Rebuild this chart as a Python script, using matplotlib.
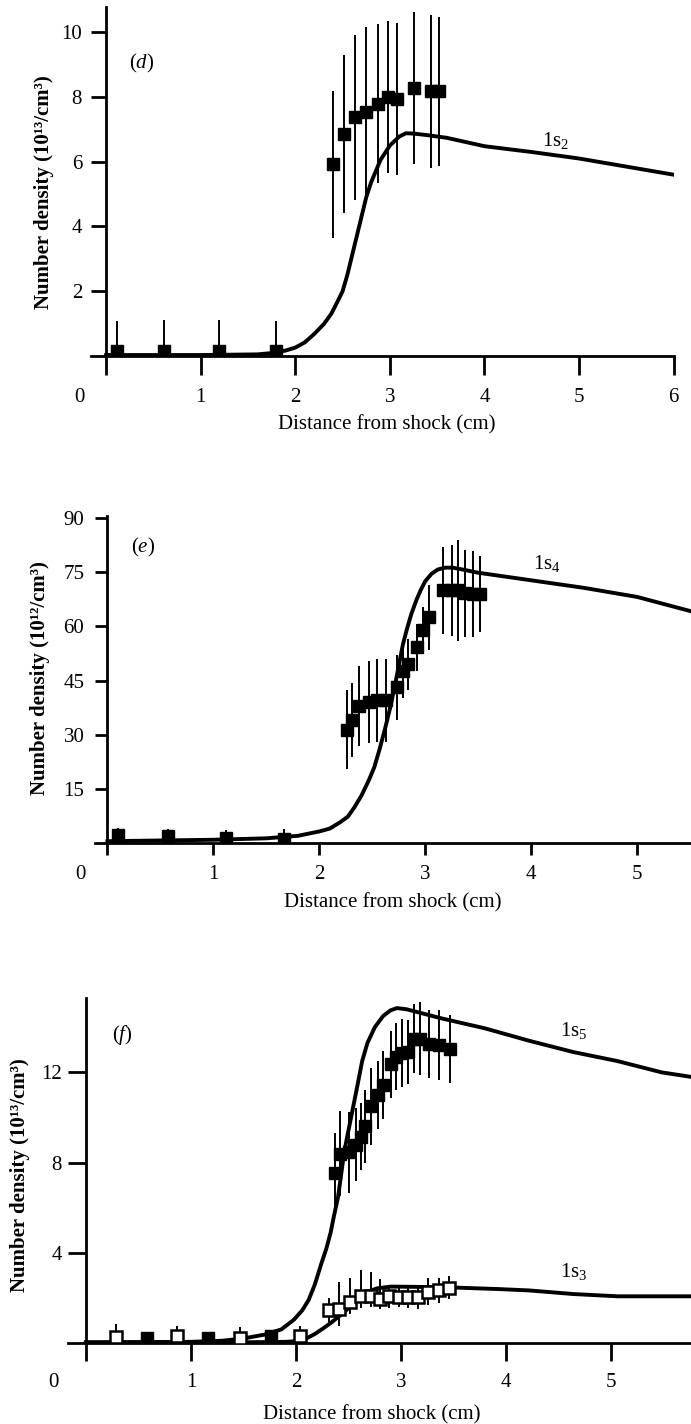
import numpy as np
import matplotlib
matplotlib.use("Agg")
import matplotlib.pyplot as plt

plt.rcParams["font.family"] = ["Liberation Serif", "DejaVu Serif"]
plt.rcParams["mathtext.fontset"] = "custom"
plt.rcParams["mathtext.rm"] = "Liberation Serif"
plt.rcParams["mathtext.it"] = "Liberation Serif:italic"
plt.rcParams["mathtext.bf"] = "Liberation Serif:bold"

# ---- panel (d): 1s2 ----
d_pts_x = [0.11, 0.61, 1.19, 1.80, 2.40, 2.51, 2.63, 2.75, 2.87, 2.98, 3.08, 3.26, 3.44, 3.52]
d_pts_y = [0.15, 0.15, 0.15, 0.15, 5.92, 6.86, 7.37, 7.55, 7.79, 8.01, 7.94, 8.27, 8.17, 8.17]
d_pts_err = [0.92, 0.95, 0.95, 0.92, 2.28, 2.45, 2.55, 2.6, 2.45, 2.35, 2.35, 2.35, 2.35, 2.3]
d_curve_x = [0.0, 1.0, 1.6, 1.75, 1.9, 2.0, 2.1, 2.2, 2.3, 2.38, 2.45, 2.5, 2.55, 2.6, 2.65,
             2.7, 2.75, 2.8, 2.9, 3.0, 3.1, 3.17, 3.25, 3.4, 3.6, 4.0, 4.5, 5.0, 5.5, 6.0]
d_curve_y = [0.03, 0.03, 0.05, 0.09, 0.17, 0.26, 0.42, 0.68, 0.98, 1.3, 1.7, 2.0, 2.5, 3.1, 3.7,
             4.3, 4.9, 5.35, 6.05, 6.5, 6.78, 6.88, 6.87, 6.82, 6.74, 6.48, 6.3, 6.1, 5.85, 5.6]

# ---- panel (e): 1s4 ----
e_pts_x = [0.10, 0.57, 1.12, 1.67, 2.26, 2.31, 2.38, 2.47, 2.55, 2.63, 2.73, 2.79, 2.84,
           2.92, 2.98, 3.04, 3.17, 3.25, 3.31, 3.38, 3.45, 3.52]
e_pts_y = [2.1, 1.85, 1.5, 1.2, 31.4, 34.0, 38.0, 39.0, 39.5, 39.5, 43.2, 47.8, 49.5,
           54.3, 58.9, 62.6, 70.0, 70.0, 70.0, 69.2, 69.0, 69.0]
e_pts_err = [2.0, 2.0, 2.0, 2.8, 11.0, 10.3, 11.0, 11.3, 11.5, 11.5, 9.0, 7.5, 7.0,
             6.5, 6.5, 9.0, 12.0, 12.5, 14.0, 12.0, 12.0, 10.5]
e_curve_x = [0.0, 0.5, 1.0, 1.5, 1.8, 2.0, 2.1, 2.2, 2.27, 2.33, 2.4, 2.47, 2.52, 2.57, 2.62,
             2.67, 2.71, 2.75, 2.79, 2.83, 2.87, 2.92, 2.96, 3.0, 3.06, 3.12, 3.19, 3.26,
             3.35, 3.5, 4.0, 4.5, 5.0, 5.5]
e_curve_y = [0.5, 0.7, 0.9, 1.3, 2.0, 3.2, 4.0, 5.8, 7.3, 9.8, 13.2, 17.5, 21.0, 26.0, 31.5,
             37.5, 43.0, 49.0, 55.0, 59.5, 63.5, 67.5, 70.2, 72.5, 74.6, 75.8, 76.3, 76.3,
             75.8, 74.9, 72.8, 70.7, 68.2, 64.3]

# ---- panel (f): 1s5 (filled) and 1s3 (open) ----
f5_pts_x = [0.58, 1.16, 1.76, 2.37, 2.42, 2.50, 2.57, 2.62, 2.66, 2.71, 2.78, 2.83, 2.90,
            2.95, 3.01, 3.07, 3.12, 3.18, 3.27, 3.36, 3.47]
f5_pts_y = [0.22, 0.22, 0.3, 7.55, 8.4, 8.45, 8.8, 9.15, 9.6, 10.5, 11.0, 11.45, 12.35,
            12.7, 12.85, 12.9, 13.5, 13.5, 13.25, 13.2, 13.05]
f5_pts_err = [0.0, 0.0, 0.0, 1.75, 1.9, 1.8, 1.6, 1.5, 1.6, 1.7, 1.5, 1.5, 1.5,
              1.5, 1.5, 1.4, 1.55, 1.6, 1.5, 1.55, 1.5]
f3_pts_x = [0.29, 0.87, 1.47, 2.04, 2.31, 2.41, 2.51, 2.62, 2.71, 2.80, 2.89, 2.98, 3.07,
            3.16, 3.26, 3.36, 3.46]
f3_pts_y = [0.27, 0.3, 0.22, 0.32, 1.48, 1.5, 1.8, 2.1, 2.1, 1.95, 2.1, 2.05, 2.02,
            2.02, 2.27, 2.36, 2.42]
f3_err_lo = [0.27, 0.3, 0.22, 0.32, 0.57, 0.76, 0.52, 0.57, 0.52, 0.45, 0.57, 0.47, 0.49,
             0.52, 0.59, 0.59, 0.47]
f3_err_hi = [0.55, 0.45, 0.5, 0.45, 0.51, 1.2, 1.06, 1.14, 1.06, 0.88, 0.41, 0.41, 0.4,
             0.44, 0.63, 0.54, 0.56]
f5_curve_x = [0.0, 1.0, 1.3, 1.5, 1.7, 1.86, 1.98, 2.06, 2.12, 2.18, 2.24, 2.29, 2.33, 2.36,
              2.4, 2.46, 2.52, 2.58, 2.63, 2.68, 2.75, 2.83, 2.9, 2.96, 3.05, 3.15, 3.38,
              3.8, 4.22, 4.64, 5.06, 5.48, 5.76]
f5_curve_y = [0.03, 0.05, 0.1, 0.2, 0.37, 0.6, 1.03, 1.45, 1.9, 2.6, 3.5, 4.2, 4.9, 5.6,
              6.45, 8.5, 9.9, 11.3, 12.5, 13.3, 14.0, 14.5, 14.75, 14.85, 14.8, 14.68, 14.4,
              13.95, 13.4, 12.9, 12.5, 12.0, 11.8]
f3_curve_x = [0.0, 1.5, 1.9, 2.0, 2.06, 2.12, 2.18, 2.26, 2.34, 2.42, 2.49, 2.56, 2.62, 2.7,
              2.77, 2.9, 3.12, 3.43, 3.93, 4.22, 4.64, 5.06, 5.76]
f3_curve_y = [0.02, 0.03, 0.05, 0.08, 0.12, 0.25, 0.4, 0.65, 0.92, 1.22, 1.5, 1.78, 2.02, 2.3,
              2.42, 2.5, 2.49, 2.47, 2.39, 2.33, 2.17, 2.07, 2.07]

ylabel_13 = "Number density (10\u00b9\u00b3/cm\u00b3)"
ylabel_12 = "Number density (10\u00b9\u00b2/cm\u00b3)"
xlabel = "Distance from shock (cm)"

FS = 15
W, H = 691, 1424


def style_axis(ax, xlim, ylim, xticks, yticks, xtick_len, xpad, ytick_len, ypad, zero_x):
    ax.set_xlim(*xlim)
    ax.set_ylim(*ylim)
    for s in ("top", "right"):
        ax.spines[s].set_visible(False)
    ax.spines["left"].set_position(("data", 0))
    ax.spines["left"].set_linewidth(2.0)
    ax.spines["bottom"].set_linewidth(2.0)
    ax.set_xticks(xticks)
    ax.set_xticklabels([""] + [str(t) for t in xticks[1:]])
    ax.set_yticks(yticks)
    ax.set_yticklabels([str(t) for t in yticks])
    ax.tick_params(axis="x", direction="out", length=xtick_len, width=2.0, pad=xpad, labelsize=FS)
    ax.tick_params(axis="y", direction="out", length=ytick_len, width=2.0, pad=ypad, labelsize=FS)
    # origin label, shifted left of the corner as in the print
    ax.annotate("0", xy=(zero_x, 0), xycoords="data", xytext=(0, -(xtick_len + xpad)),
                textcoords="offset points", ha="center", va="top", fontsize=FS,
                annotation_clip=False)


def labels(ax, ylab, ylab_pos, xlab_pos):
    ax.set_ylabel(ylab, fontsize=FS, fontweight="bold")
    ax.yaxis.set_label_coords(*ylab_pos)
    ax.yaxis.label.set_va("center")
    ax.set_xlabel(xlabel, fontsize=FS)
    ax.xaxis.set_label_coords(*xlab_pos)
    ax.xaxis.label.set_va("center")


fig = plt.figure(figsize=(W / 100, H / 100), dpi=100)

# (d)
ax = fig.add_axes([0.1317, 0.75, 0.8431, 0.2451])
ax.plot(d_curve_x, d_curve_y, color="black", lw=2.8, zorder=2)
ax.errorbar(d_pts_x, d_pts_y, yerr=d_pts_err, fmt="s", color="black", ms=8.5,
            elinewidth=1.4, capsize=0, zorder=3)
style_axis(ax, (-0.16, 6.0), (0, 10.78), [0, 1, 2, 3, 4, 5, 6], [2, 4, 6, 8, 10],
           13.5, 9.5, 10.8, 6.5, -0.285)
labels(ax, ylabel_13, (-0.081, 0.47), (0.508, -0.198))
ax.text(0.376, 9.04, r"($\mathit{d}$)", fontsize=FS, ha="center", va="center")
ax.text(4.75, 6.67, r"1s$_2$", fontsize=FS, ha="center", va="center")

# (e)
ax = fig.add_axes([0.137, 0.408, 0.863, 0.2296])
ax.plot(e_curve_x, e_curve_y, color="black", lw=2.8, zorder=2)
ax.errorbar(e_pts_x, e_pts_y, yerr=e_pts_err, fmt="s", color="black", ms=8.5,
            elinewidth=1.4, capsize=0, zorder=3)
style_axis(ax, (-0.12, 5.51), (0, 90.6), [0, 1, 2, 3, 4, 5], [15, 30, 45, 60, 75, 90],
           8.6, 7.0, 8.6, 8, -0.255)
labels(ax, ylabel_12, (-0.092, 0.505), (0.50, -0.183))
ax.text(0.34, 82.0, r"($\mathit{e}$)", fontsize=FS, ha="center", va="center")
ax.text(4.15, 77.4, r"1s$_4$", fontsize=FS, ha="center", va="center")

# (f)
ax = fig.add_axes([0.0984, 0.0569, 0.9016, 0.2423])
ax.plot(f5_curve_x, f5_curve_y, color="black", lw=2.8, zorder=2)
ax.plot(f3_curve_x, f3_curve_y, color="black", lw=2.8, zorder=2)
ax.errorbar(f5_pts_x, f5_pts_y, yerr=f5_pts_err, fmt="s", color="black", ms=8.5,
            elinewidth=1.4, capsize=0, zorder=3)
ax.errorbar(f3_pts_x, f3_pts_y, yerr=[f3_err_lo, f3_err_hi], fmt="s", color="black",
            mfc="white", mec="black", mew=1.8, ms=8.5, elinewidth=1.4, capsize=0, zorder=4)
style_axis(ax, (-0.17, 5.76), (0, 15.3), [0, 1, 2, 3, 4, 5], [4, 8, 12],
           13, 8.5, 13, 4.3, -0.31)
labels(ax, ylabel_13, (-0.077, 0.487), (0.488, -0.209))
ax.text(0.35, 13.65, r"($\mathit{f}$)", fontsize=FS, ha="center", va="center")
ax.text(4.64, 13.87, r"1s$_5$", fontsize=FS, ha="center", va="center")
ax.text(4.64, 3.17, r"1s$_3$", fontsize=FS, ha="center", va="center")

fig.savefig("out.png", dpi=100)
